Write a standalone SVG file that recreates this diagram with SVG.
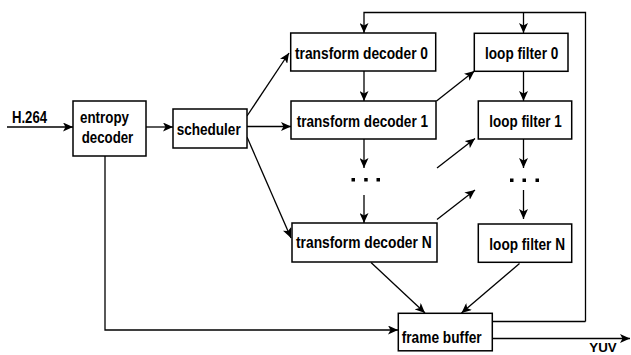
<svg xmlns="http://www.w3.org/2000/svg" width="631" height="355" viewBox="0 0 631 355">
<style>
.box{fill:#fff;stroke:#000;stroke-width:1.5}
.t{font-family:"Liberation Sans",Arial,sans-serif;font-weight:bold;font-size:16.2px;fill:#000}
.c{fill:none;stroke:#000;stroke-width:1.3}
.a{marker-end:url(#ah)}
</style>
<defs>
<marker id="ah" markerUnits="userSpaceOnUse" markerWidth="11" markerHeight="9" refX="10" refY="4.5" orient="auto">
<path d="M0,0 L10,4.5 L0,9 L2.5,4.5 z" fill="#000"/>
</marker>
</defs>
<g id="connectors">
<line class="c a" x1="7" y1="127" x2="73" y2="127"/>
<line class="c a" x1="146" y1="127" x2="173" y2="127"/>
<line class="c a" x1="247" y1="116" x2="289" y2="53"/>
<line class="c a" x1="247" y1="126.5" x2="291" y2="126.5"/>
<line class="c a" x1="247" y1="137" x2="291" y2="238"/>
<line class="c a" x1="364" y1="71" x2="364" y2="101"/>
<line class="c a" x1="364" y1="139" x2="364" y2="168"/>
<line class="c a" x1="364" y1="195" x2="364" y2="223"/>
<line class="c a" x1="523.5" y1="71" x2="523.5" y2="101"/>
<line class="c a" x1="523.5" y1="139" x2="523.5" y2="168"/>
<line class="c a" x1="523.5" y1="190" x2="523.5" y2="219"/>
<line class="c a" x1="436.5" y1="101" x2="474.5" y2="71"/>
<line class="c a" x1="437" y1="168" x2="475" y2="138.5"/>
<line class="c a" x1="437" y1="219.5" x2="475" y2="190"/>
<polyline class="c a" points="585.5,321.5 585.5,12.5 364,12.5 364,33"/>
<line class="c a" x1="523.5" y1="12.5" x2="523.5" y2="33"/>
<line class="c" x1="492" y1="321.5" x2="585.5" y2="321.5"/>
<polyline class="c a" points="105,156 105,330 398,330"/>
<line class="c a" x1="371" y1="262.5" x2="425" y2="313"/>
<line class="c a" x1="519.5" y1="263.5" x2="461.5" y2="313"/>
<line class="c a" x1="492" y1="338.5" x2="630" y2="338.5"/>
<rect x="351.5" y="178" width="3.5" height="3.5"/>
<rect x="364.2" y="178" width="3.5" height="3.5"/>
<rect x="376.5" y="178" width="3.5" height="3.5"/>
<rect x="510" y="178.5" width="3.5" height="3.5"/>
<rect x="522.5" y="178.5" width="3.5" height="3.5"/>
<rect x="535.5" y="178.5" width="3.5" height="3.5"/>
</g>
<g id="input-label"><text class="t" x="12" y="123" textLength="35" lengthAdjust="spacingAndGlyphs">H.264</text></g>
<g id="entropy-decoder">
<rect class="box" x="73" y="101" width="73" height="55"/>
<text class="t" x="80" y="123" textLength="49" lengthAdjust="spacingAndGlyphs">entropy</text>
<text class="t" x="81.7" y="143.3" textLength="51.6" lengthAdjust="spacingAndGlyphs">decoder</text>
</g>
<g id="scheduler">
<rect class="box" x="173" y="109" width="74" height="39"/>
<text class="t" x="176.7" y="135" textLength="64" lengthAdjust="spacingAndGlyphs">scheduler</text>
</g>
<g id="transform-decoder-0">
<rect class="box" x="290.7" y="33" width="145" height="38"/>
<text class="t" x="295" y="59" textLength="133" lengthAdjust="spacingAndGlyphs">transform decoder 0</text>
</g>
<g id="transform-decoder-1">
<rect class="box" x="291" y="101" width="145" height="38"/>
<text class="t" x="296.7" y="127" textLength="131.3" lengthAdjust="spacingAndGlyphs">transform decoder 1</text>
</g>
<g id="transform-decoder-N">
<rect class="box" x="292" y="223" width="145" height="39"/>
<text class="t" x="296" y="248" textLength="135.7" lengthAdjust="spacingAndGlyphs">transform decoder N</text>
</g>
<g id="loop-filter-0">
<rect class="box" x="474.3" y="33.3" width="93.7" height="38"/>
<text class="t" x="485" y="59" textLength="73.3" lengthAdjust="spacingAndGlyphs">loop filter 0</text>
</g>
<g id="loop-filter-1">
<rect class="box" x="478.3" y="101" width="93.4" height="38"/>
<text class="t" x="489.3" y="127" textLength="72.4" lengthAdjust="spacingAndGlyphs">loop filter 1</text>
</g>
<g id="loop-filter-N">
<rect class="box" x="478.3" y="224" width="93.4" height="38.3"/>
<text class="t" x="489.3" y="250" textLength="75.7" lengthAdjust="spacingAndGlyphs">loop filter N</text>
</g>
<g id="frame-buffer">
<rect class="box" x="398.3" y="313.3" width="94" height="37.5"/>
<text class="t" x="401.7" y="343" textLength="80" lengthAdjust="spacingAndGlyphs">frame buffer</text>
</g>
<g id="output-label"><text class="t" x="589.3" y="352" textLength="27.4" lengthAdjust="spacingAndGlyphs" style="font-size:13px">YUV</text></g>
</svg>
